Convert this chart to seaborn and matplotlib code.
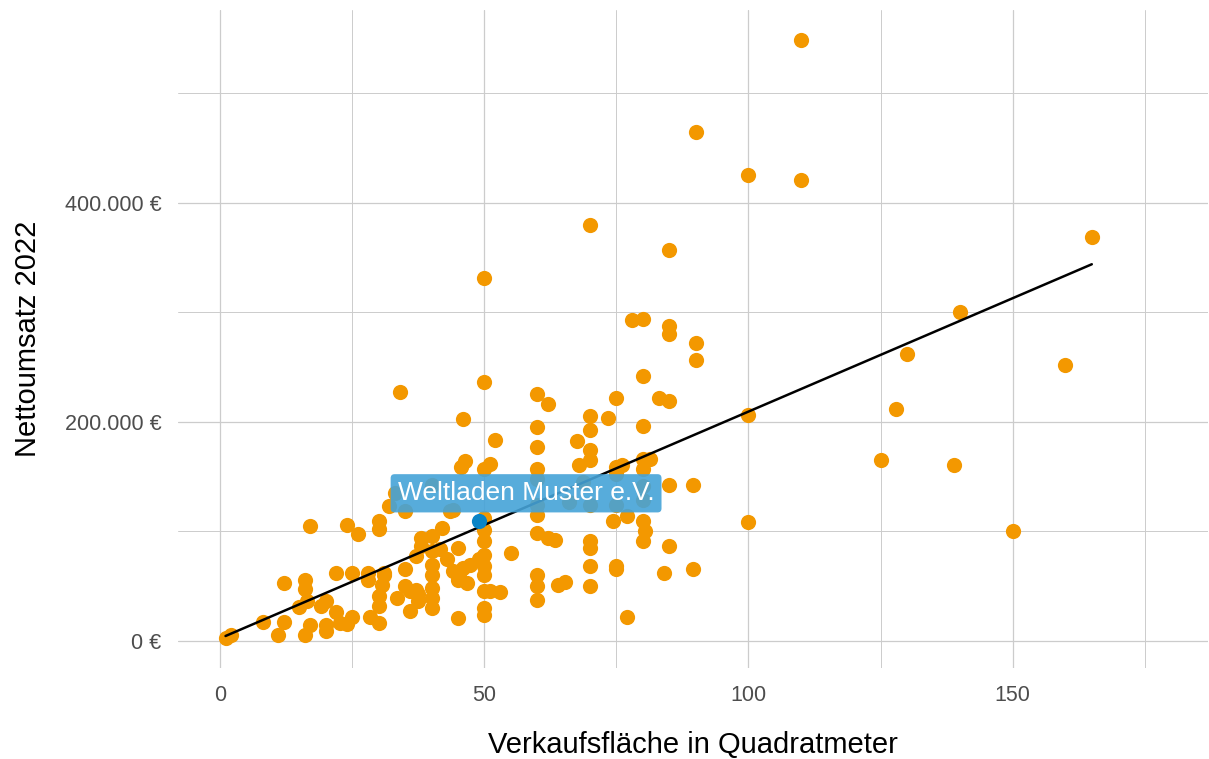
import matplotlib
matplotlib.use("Agg")
import matplotlib.pyplot as plt
import seaborn as sns
import numpy as np
import pandas as pd
from matplotlib.ticker import FuncFormatter, MultipleLocator

# Verkaufsfläche (m²) and Nettoumsatz 2022 (in 1000 €)
flaeche = [
    1, 2, 8, 11, 12, 12, 16, 16, 15, 16.5, 17, 16, 17, 20, 19, 20, 20, 22, 22, 22.7,
    24, 24, 25, 25, 26, 28, 28, 28.4, 30, 30, 30, 30, 30, 31,
    32, 33, 34, 35, 33.5, 35, 35, 36, 36, 37, 37.5, 37.5, 37, 38, 40, 38, 40, 41.6,
    40, 40, 40, 40, 40, 40, 42, 43.5, 44, 43, 44, 45, 45, 45.4, 47.3, 46, 46.8, 45,
    45, 46, 45.5, 46.4, 31, 30.6,
    50, 50, 50, 51, 50, 50, 50, 50, 50, 50, 50, 51, 53, 50, 50, 49, 52, 55,
    60, 62, 60, 60, 60, 60, 60, 60, 60, 62, 63.4, 60, 60, 60, 64, 65.3, 66,
    70, 67.6, 70, 70, 70, 70, 68, 68.7, 70, 70, 70, 70, 70, 73.5,
    75, 74.4, 75, 76, 75, 75, 77, 75, 75, 77, 78, 80, 80, 80, 80, 81.4, 80, 80, 80,
    80.4, 80, 80,
    83, 85, 85, 85, 85, 85, 85, 84, 90, 90, 90, 89.5, 89.5,
    100, 100, 100, 110, 110, 125, 128, 130, 139, 140, 150, 160, 165,
]
umsatz_k = [
    2, 5, 17, 5, 17, 53, 55, 47, 31, 36, 14, 5, 105, 36, 32, 14, 9, 62, 26, 16,
    106, 15, 62, 22, 97, 62, 55, 22, 41, 32, 16, 109, 102, 62,
    123, 135, 227, 118, 39, 65, 50, 45, 27, 46, 43, 36, 77, 94, 96, 86, 82, 84,
    69, 60, 48, 39, 30, 142, 103, 118, 119, 75, 64, 85, 55, 64, 69, 66, 53, 60,
    21, 202, 159, 164, 60, 51,
    331, 236, 157, 161, 112, 101, 91, 78, 68, 60, 45, 45, 44, 30, 23, 75, 183, 80,
    225, 216, 195, 177, 157, 148, 124, 115, 98, 94, 92, 60, 50, 37, 51, 54, 127,
    380, 182, 205, 192, 174, 165, 160, 145, 124, 91, 85, 68, 50, 203,
    222, 109, 159, 160, 152, 124, 114, 68, 65, 22, 293, 294, 242, 196, 166, 166, 157, 128, 109,
    100, 91, 141,
    222, 219, 357, 287, 280, 142, 86, 62, 465, 272, 256, 142, 65,
    425, 206, 108, 549, 421, 165, 212, 262, 160, 300, 100, 252, 369,
]
eigen_name = "Weltladen Muster e.V."
eigen_flaeche = [49]
eigen_umsatz_k = [109]

df = pd.DataFrame({"flaeche": flaeche, "umsatz": np.array(umsatz_k) * 1000})
df_eigen = pd.DataFrame({"flaeche": eigen_flaeche, "umsatz": np.array(eigen_umsatz_k) * 1000})

sns.set_theme(style="whitegrid")
plt.rcParams["font.family"] = ["Liberation Sans", "DejaVu Sans"]

fig = plt.figure(figsize=(12.09, 7.59), dpi=100)
ax = fig.add_axes([178 / 1209, 1 - 668 / 759, (1208 - 178) / 1209, (668 - 10) / 759])

orange = "#F39800"
blue = "#0A84C6"

sns.scatterplot(data=df, x="flaeche", y="umsatz", ax=ax, color=orange, s=120,
                linewidth=0, zorder=3, legend=False)
sns.regplot(data=df, x="flaeche", y="umsatz", ax=ax, scatter=False, ci=None,
            line_kws={"color": "black", "lw": 1.8, "zorder": 4}, truncate=True)
sns.scatterplot(data=df_eigen, x="flaeche", y="umsatz", ax=ax, color=blue, s=120,
                linewidth=0, zorder=5, legend=False)

ax.annotate(eigen_name, xy=(eigen_flaeche[0], eigen_umsatz_k[0] * 1000),
            xytext=(47, 28), textcoords="offset pixels", ha="center", va="center",
            fontsize=19, color="white", zorder=6,
            bbox=dict(boxstyle="round,pad=0.27,rounding_size=0.15", fc="#45A3D8",
                      ec="none", alpha=0.9))

ax.set_xlim(-8, 187)
ax.set_ylim(-25000, 576000)
ax.xaxis.set_major_locator(MultipleLocator(50))
ax.xaxis.set_minor_locator(MultipleLocator(25))
ax.yaxis.set_major_locator(MultipleLocator(200000))
ax.yaxis.set_minor_locator(MultipleLocator(100000))

def euro(v, pos):
    s = f"{int(round(v)):,}".replace(",", ".")
    return f"{s} €"
ax.yaxis.set_major_formatter(FuncFormatter(euro))

ax.grid(which="major", color="#CCCCCC", lw=0.9)
ax.grid(which="minor", color="#CCCCCC", lw=0.7)
ax.set_axisbelow(True)
for sp in ax.spines.values():
    sp.set_visible(False)
ax.tick_params(axis="both", which="both", length=0, labelsize=15.5, colors="#4D4D4D")
ax.tick_params(axis="x", pad=12)
ax.tick_params(axis="y", pad=12)

ax.set_xlabel("Verkaufsfläche in Quadratmeter", fontsize=21, color="black", labelpad=18)
ax.set_ylabel("Nettoumsatz 2022", fontsize=21, color="black", labelpad=16)

fig.savefig("out.png", dpi=100)
